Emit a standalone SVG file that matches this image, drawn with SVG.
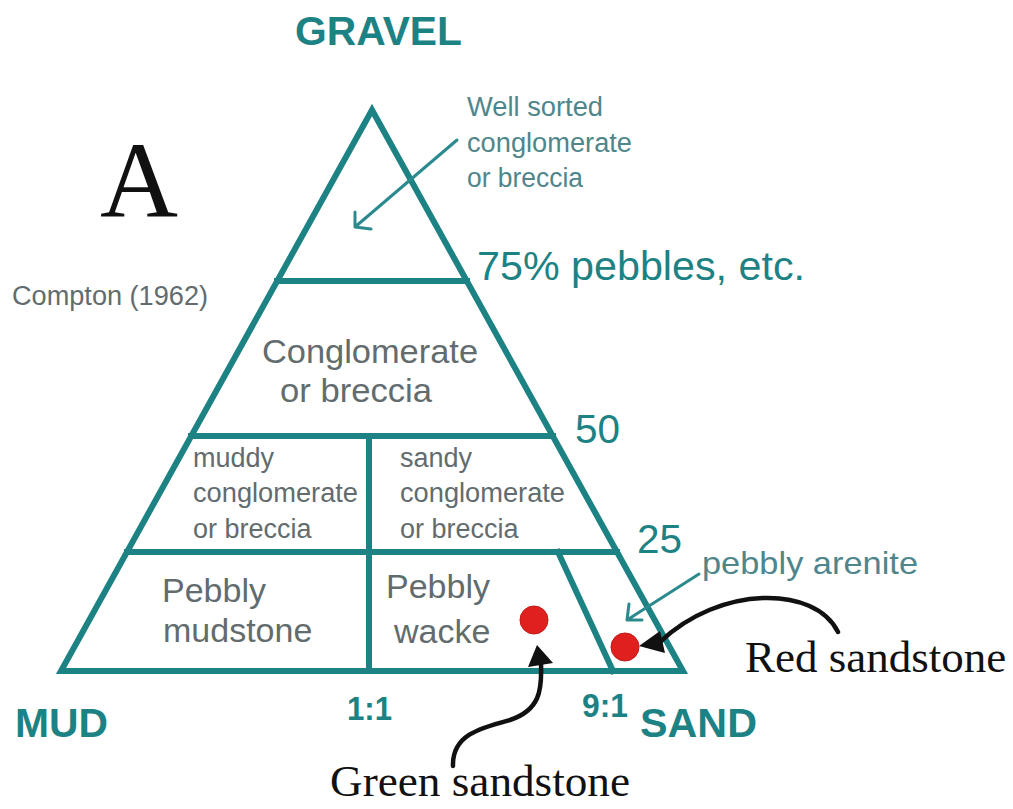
<svg xmlns="http://www.w3.org/2000/svg" width="1013" height="809" viewBox="0 0 1013 809">
<style>
.frame{fill:none;stroke:#1d8284;stroke-width:6;stroke-linejoin:miter;stroke-linecap:square}
.bold{font-family:"Liberation Sans",Arial,sans-serif;font-weight:bold;fill:#1d8284}
.num{font-family:"Liberation Sans",Arial,sans-serif;fill:#1d8284}
.lab{font-family:"Liberation Sans",Arial,sans-serif;fill:#626c6e}
.note{font-family:"Liberation Sans",Arial,sans-serif;fill:#4f868c}
.serif{font-family:"Liberation Serif","Times New Roman",serif;fill:#111}
.tealarrow{fill:none;stroke:#2a8a8e;stroke-width:3;stroke-linecap:round;stroke-linejoin:round}
.blackarrow{fill:none;stroke:#111;stroke-width:4.5;stroke-linecap:round}
.dot{fill:#e0201e;stroke:#c21a18;stroke-width:1}
</style>
<rect width="1013" height="809" fill="#ffffff"/>

<g id="frame">
<polygon class="frame" points="372,110 61,671 683,671"/>
<line class="frame" x1="277" y1="281" x2="467" y2="281"/>
<line class="frame" x1="191" y1="436" x2="553" y2="436"/>
<line class="frame" x1="127" y1="552" x2="617" y2="552"/>
<line class="frame" x1="369" y1="436" x2="369" y2="671"/>
<line class="frame" x1="558" y1="552" x2="613" y2="671"/>
</g>

<g id="axis-labels">
<text class="bold" x="295" y="45" font-size="41" textLength="167" lengthAdjust="spacingAndGlyphs">GRAVEL</text>
<text class="bold" x="15" y="737" font-size="41" textLength="93" lengthAdjust="spacingAndGlyphs">MUD</text>
<text class="bold" x="640" y="737" font-size="41" textLength="117" lengthAdjust="spacingAndGlyphs">SAND</text>
<text class="num" x="477" y="280" font-size="40" textLength="328" lengthAdjust="spacingAndGlyphs">75% pebbles, etc.</text>
<text class="num" x="575" y="443" font-size="40" textLength="45" lengthAdjust="spacingAndGlyphs">50</text>
<text class="num" x="637" y="553" font-size="40" textLength="45" lengthAdjust="spacingAndGlyphs">25</text>
<text class="num" x="347" y="720" font-size="33" font-weight="bold" textLength="45" lengthAdjust="spacingAndGlyphs">1:1</text>
<text class="num" x="582" y="717" font-size="33" font-weight="bold" textLength="46" lengthAdjust="spacingAndGlyphs">9:1</text>
</g>

<g id="title">
<text class="serif" x="100" y="217" font-size="108">A</text>
<text class="lab" x="12" y="305" font-size="27" textLength="196" lengthAdjust="spacingAndGlyphs">Compton (1962)</text>
</g>

<g id="well-sorted">
<text class="note" font-size="27">
<tspan x="467" y="116" textLength="136" lengthAdjust="spacingAndGlyphs">Well sorted</tspan>
<tspan x="467" y="152" textLength="165" lengthAdjust="spacingAndGlyphs">conglomerate</tspan>
<tspan x="467" y="187" textLength="116" lengthAdjust="spacingAndGlyphs">or breccia</tspan>
</text>
</g>

<g id="conglomerate">
<text class="lab" font-size="34">
<tspan x="262" y="363" textLength="216" lengthAdjust="spacingAndGlyphs">Conglomerate</tspan>
<tspan x="280" y="402" textLength="152" lengthAdjust="spacingAndGlyphs">or breccia</tspan>
</text>
</g>

<g id="muddy-conglomerate">
<text class="lab" font-size="27">
<tspan x="193" y="467">muddy</tspan>
<tspan x="193" y="502" textLength="165" lengthAdjust="spacingAndGlyphs">conglomerate</tspan>
<tspan x="193" y="538">or breccia</tspan>
</text>
</g>

<g id="sandy-conglomerate">
<text class="lab" font-size="27">
<tspan x="400" y="467">sandy</tspan>
<tspan x="400" y="502" textLength="165" lengthAdjust="spacingAndGlyphs">conglomerate</tspan>
<tspan x="400" y="538">or breccia</tspan>
</text>
</g>

<g id="pebbly-mudstone">
<text class="lab" font-size="34">
<tspan x="162" y="602">Pebbly</tspan>
<tspan x="163" y="642">mudstone</tspan>
</text>
</g>

<g id="pebbly-wacke">
<text class="lab" font-size="34">
<tspan x="386" y="598">Pebbly</tspan>
<tspan x="394" y="643">wacke</tspan>
</text>
</g>

<g id="pebbly-arenite">
<text class="note" x="702" y="574" font-size="32" textLength="216" lengthAdjust="spacingAndGlyphs">pebbly arenite</text>
</g>

<g id="green-sandstone">
<circle class="dot" cx="534" cy="620" r="14"/>
<text class="serif" x="330" y="796" font-size="44" textLength="300" lengthAdjust="spacingAndGlyphs">Green sandstone</text>
</g>

<g id="red-sandstone">
<circle class="dot" cx="625" cy="647" r="14"/>
<text class="serif" x="745" y="672" font-size="45">Red sandstone</text>
</g>

<g id="connectors">
<path class="tealarrow" d="M457,140 L355,227 M355,212 L355,227 L371,229"/>
<path class="tealarrow" d="M699,574 L627,620 M629,604 L627,620 L642,620"/>
<path class="blackarrow" d="M838,632 C815,585 720,585 660,642"/>
<polygon fill="#111" points="639,646 660,631 665,653"/>
<path class="blackarrow" d="M453,766 C452,735 480,728 510,720 C540,710 542,690 541,664"/>
<polygon fill="#111" points="537,645 528,667 553,663"/>
</g>
</svg>
